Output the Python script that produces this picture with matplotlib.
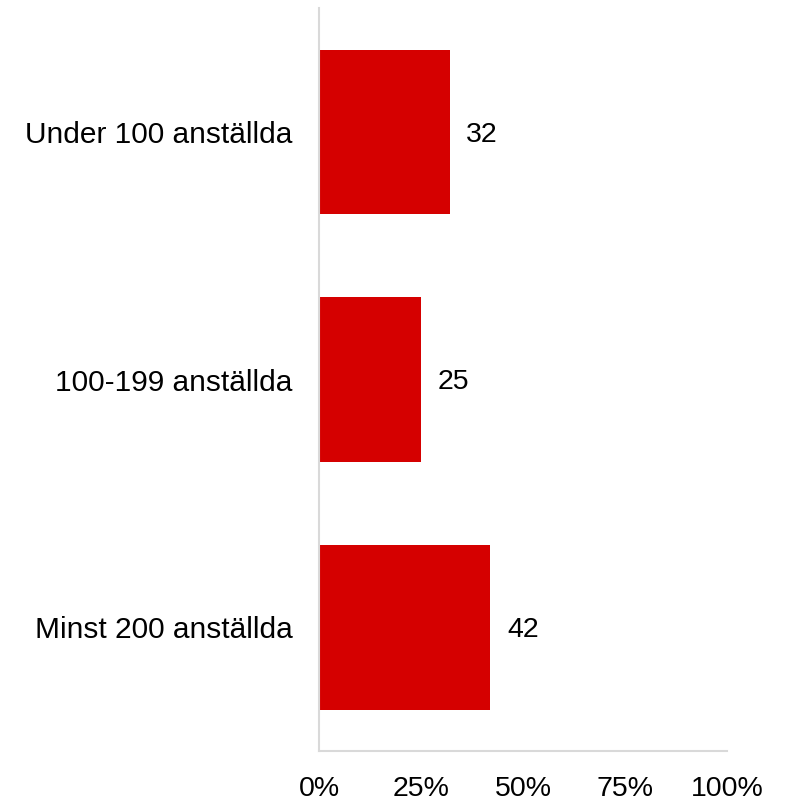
import matplotlib
import matplotlib.pyplot as plt

matplotlib.use("Agg")

categories = ["Under 100 anställda", "100-199 anställda", "Minst 200 anställda"]
values = [32, 25, 42]
xticks = [0, 25, 50, 75, 100]
xtick_labels = ["0%", "25%", "50%", "75%", "100%"]

plt.rcParams["font.family"] = ["Liberation Sans", "DejaVu Sans"]

fig = plt.figure(figsize=(7.89, 8.02), dpi=100, facecolor="white")
ax = fig.add_axes([0.4043, 0.0636, 0.5171, 0.9264])

y = list(range(len(categories)))
ax.barh(y, values, height=0.665, color="#D50000")

for yi, v in zip(y, values):
    ax.annotate(str(v), xy=(v, yi), xytext=(12, -2), textcoords="offset points",
                va="center", ha="left", fontsize=20.5, color="#000000")

ax.set_xlim(0, 100)
ax.set_ylim(2.5, -0.5)
ax.set_yticks(y)
ax.set_yticklabels(categories, fontsize=21.5, color="#000000")
ax.set_xticks(xticks)
ax.set_xticklabels(xtick_labels, fontsize=20.5, color="#000000")
ax.tick_params(axis="y", length=0, pad=19)
ax.tick_params(axis="x", length=0, pad=18)

for side in ["top", "right"]:
    ax.spines[side].set_visible(False)
for side in ["left", "bottom"]:
    ax.spines[side].set_color("#d9d9d9")
    ax.spines[side].set_linewidth(1.5)

fig.savefig("out.png", dpi=100, facecolor="white")
plt.close(fig)
